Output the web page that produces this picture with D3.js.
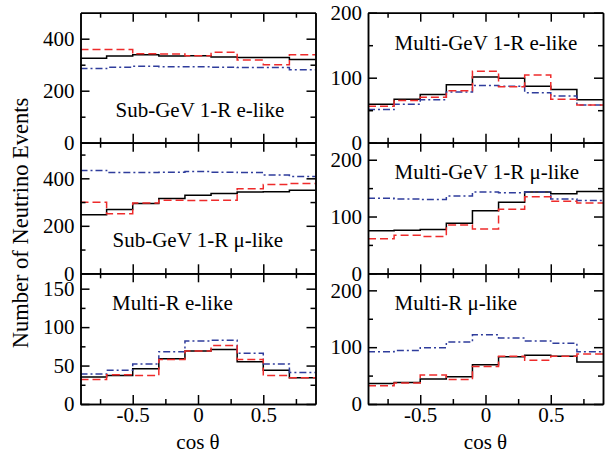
<!DOCTYPE html>
<html>
<head>
<meta charset="utf-8">
<script src="https://cdn.jsdelivr.net/npm/d3@7"></script>
<style>
body { margin: 0; background: #fff; }
text { font-family: "Liberation Serif", "Times New Roman", Times, serif; }
</style>
</head>
<body>
<script>
// bin edges in cos theta (9 bins)
var binEdges = [-0.9, -0.7, -0.5, -0.3, -0.1, 0.1, 0.3, 0.5, 0.7, 0.9];
var xMajor = [-0.5, 0, 0.5];
var xMinor = [-0.75, -0.25, 0.25, 0.75];

var panelNames = ['Sub-GeV 1-R e-like', 'Multi-GeV 1-R e-like',
                  'Sub-GeV 1-R \u03bc-like', 'Multi-GeV 1-R \u03bc-like',
                  'Multi-R e-like', 'Multi-R \u03bc-like'];
var yMax = [500, 200, 550, 230, 170, 230];
var yMajorTicks = [[0, 200, 400], [0, 100, 200], [0, 200, 400], [0, 100, 200], [0, 50, 100, 150], [0, 100, 200]];
var yMinorTicks = [[100, 300], [50, 150], [100, 300, 500], [50, 150], [25, 75, 125], [50, 150]];

// solid black
var blackVals = [
  [325, 333, 338, 333, 334, 330, 328, 328, 320],
  [59, 67, 74, 89, 101, 99, 87, 82, 66],
  [247, 269, 294, 315, 329, 336, 342, 343, 350],
  [75, 76, 77, 88, 110, 125, 143, 140, 144],
  [35, 37, 46, 59, 69, 71, 55, 44, 34],
  [36, 38, 44, 48, 69, 83, 86, 84, 74]
];
// red dashed
var redVals = [
  [358, 358, 342, 341, 334, 348, 318, 300, 338],
  [56, 65, 70, 80, 110, 86, 104, 67, 58],
  [299, 251, 296, 308, 307, 308, 356, 374, 378],
  [61, 67, 65, 85, 78, 113, 135, 127, 124],
  [32, 38, 37, 58, 69, 76, 58, 37, 34],
  [32, 37, 51, 43, 66, 84, 77, 84, 88]
];
// blue dash-dot
var blueVals = [
  [285, 290, 294, 292, 292, 290, 289, 289, 281],
  [51, 59, 66, 78, 88, 87, 77, 72, 58],
  [433, 424, 424, 426, 429, 426, 424, 414, 408],
  [132, 131, 130, 136, 143, 142, 143, 131, 128],
  [39, 44, 52, 68, 82, 83, 66, 52, 41],
  [92, 94, 99, 109, 122, 116, 111, 107, 92]
];

var colX = [80.5, 368];
var rowY = [12.7, 142.7, 273.3, 404];
var pw = 235;

var svg = d3.select('body').append('svg')
  .attr('width', 609).attr('height', 454);

function styleAxis(g) {
  g.attr('font-family', null);
  g.selectAll('path, line').attr('stroke', '#000').attr('stroke-width', 1.5);
  g.selectAll('text').attr('font-size', 21).attr('fill', '#000');
}

// label positions inside each panel (panel-local px)
var labelX = [35, 26.5, 32, 26.5, 31.5, 26.5];
var labelY = [104.6, 37.3, 104, 36.6, 37, 37];

panelNames.forEach(function(name, i) {
  var col = i % 2, row = Math.floor(i / 2);
  var x0 = colX[col], y0 = rowY[row], ph = rowY[row + 1] - rowY[row];
  var g = svg.append('g').attr('transform', 'translate(' + x0 + ',' + y0 + ')');

  var x = d3.scaleLinear().domain([-0.9, 0.9]).range([0, pw]);
  var y = d3.scaleLinear().domain([0, yMax[i]]).range([ph, 0]);

  var line = d3.line()
    .x(function(d) { return x(d[0]); })
    .y(function(d) { return y(d[1]); })
    .curve(d3.curveStepAfter);

  function steps(vals) {
    var pts = vals.map(function(v, k) { return [binEdges[k], v]; });
    pts.push([binEdges[binEdges.length - 1], vals[vals.length - 1]]);
    return pts;
  }

  g.append('path').attr('d', line(steps(blackVals[i])))
    .attr('fill', 'none').attr('stroke', '#000').attr('stroke-width', 1.5);
  g.append('path').attr('d', line(steps(blueVals[i])))
    .attr('fill', 'none').attr('stroke', '#2f3d9c').attr('stroke-width', 1.5)
    .attr('stroke-dasharray', '7,3,2,3');
  g.append('path').attr('d', line(steps(redVals[i])))
    .attr('fill', 'none').attr('stroke', '#ee2b2b').attr('stroke-width', 1.5)
    .attr('stroke-dasharray', '8,4');

  // axes, ticks pointing inward on all four sides
  var isBottom = row === 2;
  g.append('g').attr('transform', 'translate(0,' + ph + ')')
    .call(d3.axisBottom(x).tickValues(xMajor).tickSizeInner(-9).tickSizeOuter(0).tickPadding(3)
      .tickFormat(isBottom ? function(d) { return String(d); } : function() { return ''; }))
    .call(styleAxis);
  g.append('g').attr('transform', 'translate(0,' + ph + ')')
    .call(d3.axisBottom(x).tickValues(xMinor).tickSizeInner(-5).tickSizeOuter(0).tickFormat(''))
    .call(styleAxis);
  g.append('g')
    .call(d3.axisTop(x).tickValues(xMajor).tickSizeInner(-9).tickSizeOuter(0).tickFormat(''))
    .call(styleAxis);
  g.append('g')
    .call(d3.axisTop(x).tickValues(xMinor).tickSizeInner(-5).tickSizeOuter(0).tickFormat(''))
    .call(styleAxis);
  g.append('g')
    .call(d3.axisLeft(y).tickValues(yMajorTicks[i]).tickSizeInner(-9).tickSizeOuter(0).tickPadding(6))
    .call(styleAxis);
  g.append('g')
    .call(d3.axisLeft(y).tickValues(yMinorTicks[i]).tickSizeInner(-5).tickSizeOuter(0).tickFormat(''))
    .call(styleAxis);
  g.append('g').attr('transform', 'translate(' + pw + ',0)')
    .call(d3.axisRight(y).tickValues(yMajorTicks[i]).tickSizeInner(-9).tickSizeOuter(0).tickFormat(''))
    .call(styleAxis);
  g.append('g').attr('transform', 'translate(' + pw + ',0)')
    .call(d3.axisRight(y).tickValues(yMinorTicks[i]).tickSizeInner(-5).tickSizeOuter(0).tickFormat(''))
    .call(styleAxis);

  // panel label
  g.append('text')
    .attr('x', labelX[i]).attr('y', labelY[i])
    .attr('font-size', 21)
    .text(name);
});

// axis titles
colX.forEach(function(cx) {
  svg.append('text')
    .attr('x', cx + pw / 2).attr('y', 449)
    .attr('text-anchor', 'middle').attr('font-size', 21)
    .text('cos \u03b8');
});

svg.append('text')
  .attr('transform', 'translate(28,223) rotate(-90)')
  .attr('text-anchor', 'middle').attr('font-size', 22.5)
  .text('Number of Neutrino Events');
</script>
</body>
</html>
